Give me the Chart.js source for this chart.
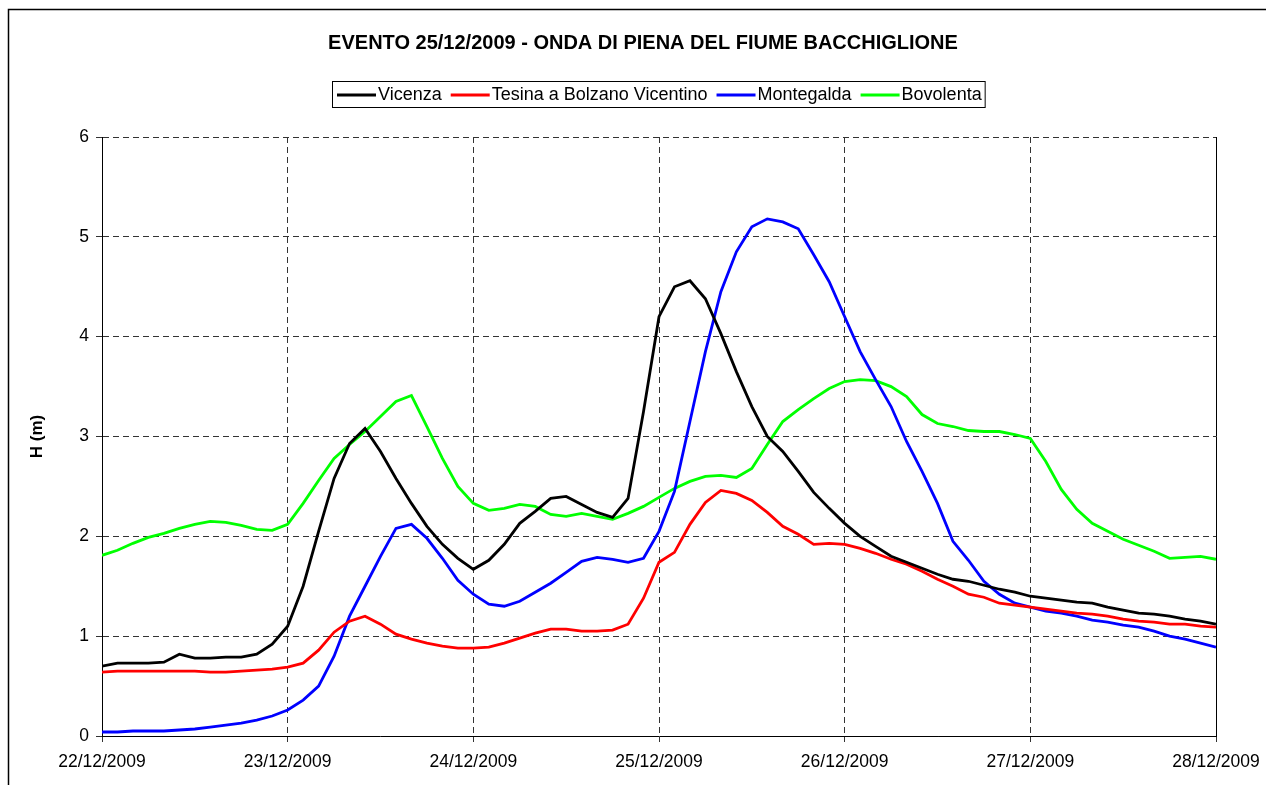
<!DOCTYPE html>
<html>
<head>
<meta charset="utf-8">
<title>Onda di piena Bacchiglione</title>
<script src="https://cdn.jsdelivr.net/npm/chart.js@4.4.1/dist/chart.umd.min.js"></script>
<style>
  html, body { margin: 0; padding: 0; background: #fff; }
  #wrap { width: 1266px; height: 785px; position: relative; }
</style>
</head>
<body>
<div id="wrap"><canvas id="grafico" width="1266" height="785"></canvas></div>
<script>
// etichette dei giorni sull'asse x (una ogni 24 ore)
var giorni = ['22/12/2009', '23/12/2009', '24/12/2009', '25/12/2009', '26/12/2009', '27/12/2009', '28/12/2009']
// passo di lettura dei livelli, in ore
var passoOre = 2

// livelli idrometrici H (m), uno ogni 2 ore dalle 00:00 del 22/12
var vicenza = [0.70, 0.73, 0.73, 0.73, 0.74, 0.82, 0.78, 0.78, 0.79, 0.79, 0.82, 0.92,
    1.10, 1.50, 2.05, 2.58, 2.93, 3.08, 2.85, 2.58, 2.33, 2.10, 1.92, 1.78,
    1.67, 1.76, 1.92, 2.13, 2.25, 2.38, 2.40, 2.32, 2.24, 2.19, 2.38, 3.25,
    4.20, 4.50, 4.56, 4.38, 4.03, 3.65, 3.30, 3.00, 2.85, 2.65, 2.44, 2.28,
    2.13, 2.00, 1.90, 1.80, 1.74, 1.68, 1.62, 1.57, 1.55, 1.51, 1.47, 1.44,
    1.40, 1.38, 1.36, 1.34, 1.33, 1.29, 1.26, 1.23, 1.22, 1.20, 1.17, 1.15, 1.12]

var tesina = [0.64, 0.65, 0.65, 0.65, 0.65, 0.65, 0.65, 0.64, 0.64, 0.65, 0.66, 0.67,
    0.69, 0.73, 0.86, 1.04, 1.15, 1.20, 1.12, 1.02, 0.97, 0.93, 0.90, 0.88,
    0.88, 0.89, 0.93, 0.98, 1.03, 1.07, 1.07, 1.05, 1.05, 1.06, 1.12, 1.38,
    1.74, 1.84, 2.12, 2.34, 2.46, 2.43, 2.36, 2.24, 2.10, 2.02, 1.92, 1.93,
    1.92, 1.88, 1.83, 1.77, 1.72, 1.65, 1.57, 1.50, 1.42, 1.39, 1.33, 1.31,
    1.29, 1.27, 1.25, 1.23, 1.22, 1.20, 1.17, 1.15, 1.14, 1.12, 1.12, 1.10, 1.09]

var montegalda = [0.04, 0.04, 0.05, 0.05, 0.05, 0.06, 0.07, 0.09, 0.11, 0.13, 0.16, 0.20,
    0.26, 0.36, 0.50, 0.80, 1.20, 1.50, 1.80, 2.08, 2.12, 1.98, 1.78, 1.56,
    1.42, 1.32, 1.30, 1.35, 1.44, 1.53, 1.64, 1.75, 1.79, 1.77, 1.74, 1.78,
    2.05, 2.45, 3.15, 3.85, 4.45, 4.85, 5.10, 5.18, 5.15, 5.08, 4.82, 4.55,
    4.20, 3.85, 3.57, 3.30, 2.95, 2.65, 2.33, 1.95, 1.76, 1.55, 1.42, 1.33,
    1.29, 1.25, 1.23, 1.20, 1.16, 1.14, 1.11, 1.09, 1.05, 1.00, 0.97, 0.93, 0.89]

var bovolenta = [1.81, 1.86, 1.93, 1.99, 2.03, 2.08, 2.12, 2.15, 2.14, 2.11, 2.07, 2.06,
    2.12, 2.33, 2.56, 2.78, 2.92, 3.05, 3.20, 3.35, 3.41, 3.10, 2.78, 2.50,
    2.33, 2.26, 2.28, 2.32, 2.30, 2.22, 2.20, 2.23, 2.20, 2.17, 2.23, 2.30,
    2.39, 2.48, 2.55, 2.60, 2.61, 2.59, 2.68, 2.92, 3.15, 3.27, 3.38, 3.48,
    3.55, 3.57, 3.56, 3.50, 3.40, 3.22, 3.13, 3.10, 3.06, 3.05, 3.05, 3.02,
    2.98, 2.75, 2.47, 2.27, 2.13, 2.05, 1.97, 1.91, 1.85, 1.78, 1.79, 1.80, 1.77]

var FONT = "'Liberation Sans', Arial, sans-serif"

// x in giorni dal 22/12 00:00
function punti(serie) {
    return serie.map((v, i) => ({ x: i * passoOre / 24, y: v }))
}

// titolo, legenda con cornice e bordi del riquadro
var decorazioni = {
    id: 'decorazioni',
    afterDraw(chart) {
        let c = chart.ctx
        let area = chart.chartArea
        c.save()
        // cornice esterna del grafico
        c.strokeStyle = '#000'
        c.lineWidth = 1.5
        c.beginPath()
        c.moveTo(1266, 9.5)
        c.lineTo(8.5, 9.5)
        c.lineTo(8.5, 785)
        c.stroke()

        // bordo destro dell'area del grafico
        c.lineWidth = 1
        c.beginPath()
        c.moveTo(Math.round(area.right) + 0.5, area.top)
        c.lineTo(Math.round(area.right) + 0.5, area.bottom)
        c.stroke()

        // titolo
        c.fillStyle = '#000'
        c.font = 'bold 20px ' + FONT
        c.textAlign = 'center'
        c.textBaseline = 'middle'
        c.fillText('EVENTO 25/12/2009 - ONDA DI PIENA DEL FIUME BACCHIGLIONE', 643, 43)

        // legenda
        c.font = '18px ' + FONT
        c.textAlign = 'left'
        let x = 337
        let y = 95
        chart.data.datasets.forEach((ds, i) => {
            c.strokeStyle = ds.borderColor
            c.lineWidth = 3
            c.beginPath()
            c.moveTo(x, y)
            c.lineTo(x + 39, y)
            c.stroke()
            x += 41
            c.fillText(ds.label, x, y)
            x += c.measureText(ds.label).width
            if (i < chart.data.datasets.length - 1) x += 9
        })
        c.strokeStyle = '#000'
        c.lineWidth = 1
        c.strokeRect(332.5, 81.5, x + 3 - 332, 26)
        c.restore()
    }
}

var ctx = document.getElementById('grafico')
var grafico = new Chart(ctx, {
    type: 'line',
    data: {
        datasets: [{
            label: 'Vicenza',
            data: punti(vicenza),
            borderColor: '#000000'
        }, {
            label: 'Tesina a Bolzano Vicentino',
            data: punti(tesina),
            borderColor: '#ff0000'
        }, {
            label: 'Montegalda',
            data: punti(montegalda),
            borderColor: '#0000ff'
        }, {
            label: 'Bovolenta',
            data: punti(bovolenta),
            borderColor: '#00ff00'
        }]
    },
    options: {
        responsive: false,
        animation: false,
        devicePixelRatio: 1,
        elements: {
            point: { radius: 0 },
            line: { borderWidth: 2.8, tension: 0 }
        },
        layout: { padding: { left: 0, top: 137, right: 50, bottom: 9 } },
        plugins: {
            legend: { display: false },
            tooltip: { enabled: false }
        },
        scales: {
            x: {
                type: 'linear',
                min: 0,
                max: giorni.length - 1,
                afterFit: (s) => {
                    s.height = 40
                    s.paddingLeft = 0
                    s.paddingRight = 0
                },
                ticks: {
                    stepSize: 1,
                    color: '#000',
                    padding: 10,
                    maxRotation: 0,
                    font: { family: FONT, size: 17.5 },
                    callback: (v) => giorni[v]
                },
                grid: { color: '#333', tickLength: 6 },
                border: { display: true, color: '#000', width: 1, dash: [6, 4] }
            },
            y: {
                min: 0,
                max: 6,
                afterFit: (s) => {
                    s.width = 102
                    s.paddingTop = 0
                    s.paddingBottom = 0
                },
                ticks: {
                    stepSize: 1,
                    color: '#000',
                    padding: 7,
                    font: { family: FONT, size: 17.5 }
                },
                grid: { color: '#333', tickLength: 6 },
                border: { display: true, color: '#000', width: 1, dash: [6, 4] },
                title: {
                    display: true,
                    text: 'H (m)',
                    color: '#000',
                    font: { family: FONT, size: 17, weight: 'bold' },
                    padding: { top: 27, bottom: 0 }
                }
            }
        }
    },
    plugins: [decorazioni]
});
</script>
</body>
</html>
